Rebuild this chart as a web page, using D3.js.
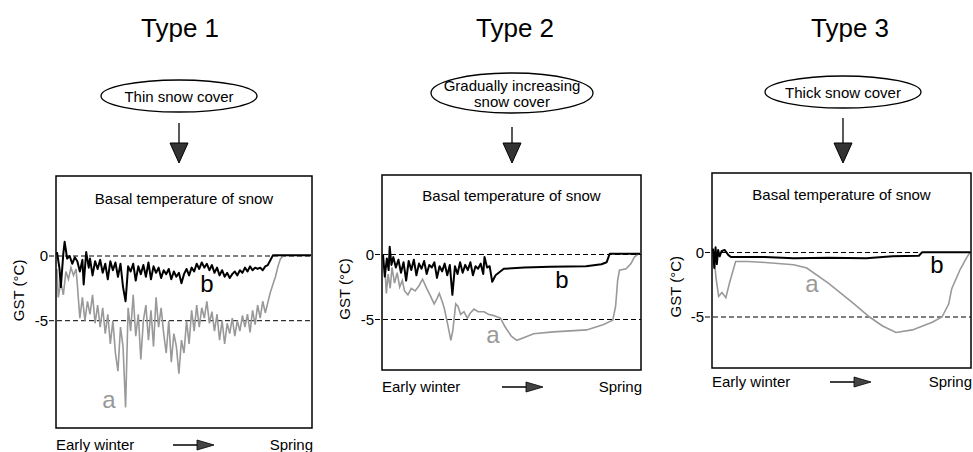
<!DOCTYPE html>
<html>
<head>
<meta charset="utf-8">
<script src="https://cdn.jsdelivr.net/npm/d3@7"></script>
<style>
  body { margin: 0; background: #fff; }
  svg { font-family: "Liberation Sans", Arial, sans-serif; }
</style>
</head>
<body>
<div id="chart"></div>
<script>
/* global d3 */

// time runs 0 (early winter) .. 100 (spring); values are GST in °C
var yTicks = [0, -5];
var titles = ["Type 1", "Type 2", "Type 3"];
var snowLabels = [["Thin snow cover"], ["Gradually increasing", "snow cover"], ["Thick snow cover"]];

// Type 1, curve b (black)
var b1 = [[0,0.3],[1,-1.0],[1.5,-2.4],[2.5,0.2],[3,1.1],[4,-0.2],[5,0.0],[6,-0.6],[7,-0.1],[8,-0.4],
  [9,-1.2],[10,-0.3],[10.5,-2.2],[11.5,0.3],[12.5,-0.9],[13,-0.2],[14,-1.5],[15,-0.4],[16,-1.0],[17,-0.3],
  [18,-1.3],[19,-0.6],[20,-1.8],[21,-0.4],[22,-1.1],[23,-0.5],[24,-1.6],[25,-0.6],[26,-2.4],[27,-3.5],
  [28,-0.8],[29,-1.2],[30,-0.6],[31,-1.9],[32,-0.8],[33,-1.4],[34,-0.7],[35,-1.6],[36,-0.5],[37,-1.8],
  [38,-0.8],[39,-1.3],[40,-0.9],[41,-1.7],[42,-1.1],[43,-1.4],[44,-1.0],[45,-1.8],[46,-1.2],[47,-1.6],
  [48,-1.3],[49,-2.1],[50,-1.4],[51,-1.0],[52,-1.5],[53,-0.9],[54,-1.2],[55,-0.6],[56,-1.0],[57,-0.5],
  [58,-0.9],[59,-0.6],[60,-1.1],[61,-0.7],[62,-1.3],[63,-0.9],[64,-1.5],[65,-1.1],[66,-1.6],[67,-1.3],
  [68,-1.7],[69,-1.4],[70,-1.2],[71,-1.5],[72,-1.1],[73,-1.3],[74,-0.9],[75,-1.2],[76,-0.8],[77,-1.1],
  [78,-0.9],[79,-1.0],[80,-0.9],[81,-1.1],[82,-0.8],[83,-0.7],[85,0.05],[100,0.05]];
// Type 1, curve a (grey)
var a1 = [[0,-1.0],[0.5,-3.2],[1.5,-2.0],[2.5,-3.0],[3.5,-1.2],[4.5,-1.8],[5.5,-0.9],[6.5,-1.5],[7.5,-1.0],
  [8,-2.2],[9,-4.8],[10,-3.2],[11,-5.0],[12,-3.5],[13,-4.5],[14,-3.0],[15,-5.2],[16,-3.8],[17,-5.5],[18,-4.0],
  [19,-6.0],[20,-4.5],[21,-6.8],[22,-5.0],[23,-7.5],[24,-8.9],[25,-5.5],[26,-7.0],[27,-11.7],[28,-4.0],
  [29,-5.8],[30,-3.0],[31,-6.2],[32,-4.5],[33,-8.0],[34,-5.0],[35,-3.8],[36,-6.5],[37,-4.2],[38,-7.0],
  [39,-3.2],[40,-5.5],[41,-4.0],[42,-6.0],[43,-7.5],[44,-5.0],[45,-8.2],[46,-6.0],[47,-7.0],[48,-9.1],
  [49,-6.5],[50,-7.5],[51,-5.0],[52,-6.8],[53,-4.2],[54,-5.8],[55,-3.8],[56,-5.5],[57,-4.0],[58,-4.8],
  [59,-3.5],[60,-5.2],[61,-4.3],[62,-5.8],[63,-4.5],[64,-6.5],[65,-5.0],[66,-6.8],[67,-5.2],[68,-6.0],
  [69,-4.8],[70,-6.2],[71,-5.0],[72,-5.8],[73,-4.6],[74,-5.5],[75,-4.5],[76,-5.9],[77,-4.2],[78,-5.3],
  [79,-3.8],[80,-4.8],[81,-3.5],[82,-4.4],[83,-3.6],[84,-2.8],[85,-2.2],[86,-1.6],[87,-0.8],[88,-0.2],[89,0.0]];

// Type 2
var b2 = [[0,0.0],[0.7,-1.7],[1.5,-0.3],[2.2,-1.2],[2.6,0.6],[3.3,-0.8],[4,-0.2],[5,-1.0],[6,-0.4],[7,-1.4],
  [8,-0.6],[9,-2.0],[10,-0.5],[11,-1.2],[12,-0.4],[13,-1.6],[14,-0.7],[15,-1.1],[16,-0.5],[17,-1.5],
  [18,-0.8],[19,-1.0],[20,-0.6],[21,-1.8],[22,-0.9],[23,-1.3],[24,-0.7],[25,-1.6],[26,-0.8],[27,-3.1],
  [28,-0.9],[29,-1.5],[30,-0.6],[31,-1.4],[32,-0.8],[33,-1.2],[34,-0.6],[35,-1.6],[36,-0.9],[37,-1.1],
  [38,-0.7],[39,-1.5],[39.5,-0.2],[40.5,-1.0],[41.5,-0.9],[42.5,-2.1],[43.8,-1.6],[47,-1.1],[55,-1.0],
  [65,-0.95],[79,-0.9],[85,-0.75],[87,-0.6],[88.2,0.05],[100,0.05]];
var a2 = [[0.8,-1.2],[1.3,-3.0],[2,-1.5],[2.8,-2.6],[3.5,-1.0],[4.5,-2.2],[5.5,-1.4],[6.5,-2.5],[7.5,-2.0],
  [8.4,-2.8],[9.7,-3.1],[11,-2.6],[12.5,-2.8],[14,-2.4],[15.4,-1.9],[17,-2.6],[18.5,-3.2],[19.9,-3.8],
  [21,-3.4],[21.9,-3.0],[23,-3.6],[23.8,-4.1],[25.1,-5.3],[26.4,-6.6],[27.2,-5.8],[28.3,-3.8],[29.2,-4.0],
  [30.2,-4.6],[31.5,-4.4],[32.8,-4.9],[34,-4.5],[35.4,-4.2],[37,-4.4],[39.3,-4.4],[41,-4.6],[43.1,-4.7],
  [45.7,-4.9],[47.6,-5.6],[50,-6.3],[52.1,-6.6],[54.7,-6.4],[58.6,-6.1],[66.3,-5.95],[79.2,-5.8],
  [85.6,-5.4],[89.4,-5.05],[90.5,-4.0],[91.3,-2.0],[92,-1.2],[94.6,-1.1],[96.5,-0.7],[97.8,-0.2],[99.1,0.0]];

// Type 3
var b3 = [[0,0.3],[0.5,-1.2],[1,0.4],[1.5,-0.9],[2,0.2],[2.6,-0.3],[3.3,0.1],[4.5,0.2],[6,-0.2],[7,-0.35],
  [20,-0.35],[31.4,-0.45],[45,-0.4],[59.6,-0.45],[69.9,-0.3],[80.1,-0.25],[81.4,0.02],[100,0.02]];
var a3 = [[0.3,-0.2],[1.2,-2.0],[2.2,-3.4],[3.5,-3.1],[5,-3.5],[6.5,-2.3],[8.8,-0.7],[13.5,-0.7],[18.6,-0.75],
  [31.4,-0.95],[36.5,-1.2],[45,-2.4],[55,-4.0],[60.9,-5.0],[66,-5.7],[71.2,-6.2],[77.6,-6.0],[85.3,-5.4],
  [89.1,-5.0],[91.7,-4.0],[92.9,-2.8],[96.2,-1.3],[98.7,-0.4],[100,0.0]];

var width = 973, height = 452;

// layout of each panel (pixel boxes, zero / -5 line positions, label spots)
var panels = [
  {a: a1, b: b1, x0: 56, x1: 312, top: 176, bottom: 428, y0: 256, y5: 320.7,
   titleX: 180, ellX: 179, ellY: 96, rx: 78, ry: 16, fs: 15, gap: 15, arrowTop: 123,
   gstX: 19, footY: 450, arrowX: 173, aLab: [109, 408], bLab: [207, 292], basalY: 204},
  {a: a2, b: b2, x0: 382, x1: 641, top: 175, bottom: 370, y0: 254.5, y5: 319.5,
   titleX: 515, ellX: 512, ellY: 93, rx: 81, ry: 20, fs: 15, gap: 16, arrowTop: 127,
   gstX: 345, footY: 392, arrowX: 502, aLab: [493, 343], bLab: [562, 288], basalY: 201},
  {a: a3, b: b3, x0: 712, x1: 971, top: 173, bottom: 368, y0: 252.5, y5: 317,
   titleX: 850, ellX: 843, ellY: 92, rx: 78, ry: 16, fs: 15, gap: 15, arrowTop: 118,
   gstX: 676, footY: 387, arrowX: 830, aLab: [812, 292], bLab: [937, 273], basalY: 200}
];

var svg = d3.select("#chart").append("svg")
  .attr("width", width)
  .attr("height", height);

var defs = svg.append("defs");

panels.forEach(function (p, i) {
  var g = svg.append("g").attr("class", "panel");
  var cx = (p.x0 + p.x1) / 2;

  var x = d3.scaleLinear().domain([0, 100]).range([p.x0 + 1, p.x1 - 1]);
  var y = d3.scaleLinear().domain([-5, 0]).range([p.y5, p.y0]);

  // title
  g.append("text")
    .attr("x", p.titleX).attr("y", 37)
    .attr("text-anchor", "middle")
    .style("font-size", "26px")
    .text(titles[i]);

  // snow cover ellipse
  g.append("ellipse")
    .attr("cx", p.ellX).attr("cy", p.ellY)
    .attr("rx", p.rx).attr("ry", p.ry)
    .style("fill", "none").style("stroke", "#000").style("stroke-width", 1.3);

  var lines = snowLabels[i];
  lines.forEach(function (t, k) {
    g.append("text")
      .attr("x", p.ellX)
      .attr("y", p.ellY + 5.5 + (k - (lines.length - 1) / 2) * p.gap)
      .attr("text-anchor", "middle")
      .style("font-size", p.fs + "px")
      .text(t);
  });

  // downward arrow
  g.append("line")
    .attr("x1", p.ellX).attr("x2", p.ellX)
    .attr("y1", p.arrowTop).attr("y2", 150)
    .style("stroke", "#000").style("stroke-width", 1.3);
  g.append("path")
    .attr("d", "M" + (p.ellX - 9) + ",143L" + (p.ellX + 9) + ",143L" + p.ellX + ",163Z")
    .style("fill", "#333").style("stroke", "#000").style("stroke-width", 1);

  // frame
  defs.append("clipPath").attr("id", "clip" + i)
    .append("rect")
    .attr("x", p.x0).attr("y", p.top)
    .attr("width", p.x1 - p.x0).attr("height", p.bottom - p.top);

  g.append("text")
    .attr("x", cx).attr("y", p.basalY)
    .attr("text-anchor", "middle")
    .style("font-size", "15px")
    .text("Basal temperature of snow");

  // reference lines at 0 and -5
  g.selectAll(".ref")
    .data(yTicks)
    .enter().append("line")
    .attr("class", "ref")
    .attr("x1", p.x0 - 7).attr("x2", p.x1)
    .attr("y1", function (d) { return y(d); })
    .attr("y2", function (d) { return y(d); })
    .style("stroke", "#000").style("stroke-width", 1)
    .style("stroke-dasharray", "5,3");

  g.selectAll(".tick")
    .data(yTicks)
    .enter().append("text")
    .attr("class", "tick")
    .attr("x", p.x0 - 8)
    .attr("y", function (d) { return y(d) + 5; })
    .attr("text-anchor", "end")
    .style("font-size", "15px")
    .text(function (d) { return d; });

  g.append("text")
    .attr("transform", "translate(" + (p.gstX + 5) + "," + ((p.y0 + p.y5) / 2 + 2) + ") rotate(-90)")
    .attr("text-anchor", "middle")
    .style("font-size", "15px")
    .text("GST (°C)");

  var line = d3.line()
    .x(function (d) { return x(d[0]); })
    .y(function (d) { return y(d[1]); });

  var plot = g.append("g").attr("clip-path", "url(#clip" + i + ")");
  plot.append("path")
    .attr("d", line(p.a))
    .style("fill", "none").style("stroke", "#999").style("stroke-width", 1.6);
  plot.append("path")
    .attr("d", line(p.b))
    .style("fill", "none").style("stroke", "#000").style("stroke-width", 2)
    .style("stroke-linejoin", "round");

  g.append("rect")
    .attr("x", p.x0).attr("y", p.top)
    .attr("width", p.x1 - p.x0).attr("height", p.bottom - p.top)
    .style("fill", "none").style("stroke", "#000").style("stroke-width", 1.5);

  // curve labels
  g.append("text")
    .attr("x", p.aLab[0]).attr("y", p.aLab[1])
    .attr("text-anchor", "middle")
    .style("font-size", "24px").style("fill", "#999")
    .text("a");
  g.append("text")
    .attr("x", p.bLab[0]).attr("y", p.bLab[1])
    .attr("text-anchor", "middle")
    .style("font-size", "24px").style("fill", "#000")
    .text("b");

  // time axis
  g.append("text")
    .attr("x", p.x0).attr("y", p.footY)
    .style("font-size", "15px")
    .text("Early winter");
  g.append("text")
    .attr("x", p.x1 + 1).attr("y", p.footY)
    .attr("text-anchor", "end")
    .style("font-size", "15px")
    .text("Spring");

  var ay = p.footY - 5;
  g.append("line")
    .attr("x1", p.arrowX).attr("x2", p.arrowX + 26)
    .attr("y1", ay).attr("y2", ay)
    .style("stroke", "#000").style("stroke-width", 1.5);
  g.append("path")
    .attr("d", "M" + (p.arrowX + 24) + "," + (ay - 5) + "L" + (p.arrowX + 41) + "," + ay +
      "L" + (p.arrowX + 24) + "," + (ay + 5) + "Z")
    .style("fill", "#444").style("stroke", "#000").style("stroke-width", 0.8);
});
</script>
</body>
</html>
